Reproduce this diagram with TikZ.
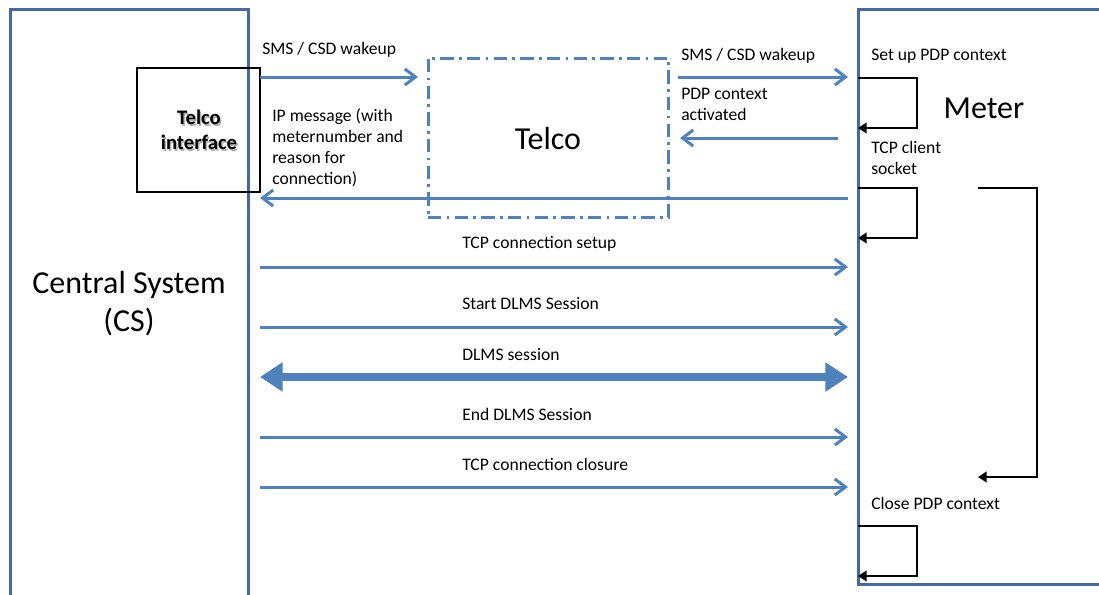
\documentclass[tikz,border=0pt]{standalone}
\usepackage{fontspec}
\setmainfont{Carlito}
\usetikzlibrary{arrows.meta,fit}
\definecolor{boxblue}{RGB}{68,106,158}
\definecolor{arrblue}{RGB}{79,129,189}
\begin{document}
\begin{tikzpicture}[x=0.75pt,y=-0.75pt,
  lifebox/.style={draw=boxblue,line width=2.25pt,inner sep=0pt},
  msg/.style={draw=arrblue,line width=2.25pt,-{Straight Barb[length=8pt,width=12pt]}},
  bigmsg/.style={draw=arrblue,line width=6pt,{Triangle[length=17pt,width=21pt]}-{Triangle[length=17pt,width=21pt]}},
  selfloop/.style={draw=black,line width=2.2pt,-{Triangle[length=6.5pt,width=8pt]}},
  lbl/.style={font=\fontsize{13.2}{15.75}\selectfont,align=left,inner sep=0pt},
  big/.style={font=\fontsize{24}{28.5}\selectfont,align=center,inner sep=0pt}]
\useasboundingbox (0,0) rectangle (1099,594);
\fill[white] (0,0) rectangle (1099,594);

% lifeline boxes
\coordinate (csTL) at (10,9);
\coordinate (csBR) at (248,640);
\node[lifebox,fit=(csTL)(csBR)] (cs) {};
\coordinate (mTL) at (858,9);
\coordinate (mBR) at (1140,584);
\node[lifebox,fit=(mTL)(mBR)] (meter) {};
\coordinate (tTL) at (428,58);
\coordinate (tBR) at (668,217);
\node[draw=arrblue,line width=2.25pt,inner sep=0pt,
  dash pattern=on 10pt off 4pt on 2pt off 4pt,fit=(tTL)(tBR)] (telco) {};
\node[big] at (548,138) {Telco};
\node[big] at (129,304) {Central System\\(CS)};
\node[big] at (984,108) {Meter};

% telco interface
\coordinate (tiTL) at (137,68);
\coordinate (tiBR) at (260,192);
\node[draw=black,line width=1.8pt,inner sep=0pt,fit=(tiTL)(tiBR)] (ti) {};
\node[font=\fontsize{15.5}{19}\bfseries,align=center,text=black!30] at (200.5,131.5) {Telco\\interface};
\node[font=\fontsize{15.5}{19}\bfseries,align=center] (tilbl) at (199,130) {Telco\\interface};

% message coordinates
\coordinate (a1) at (260,77);  \coordinate (a2) at (418,77);
\coordinate (b1) at (678,77);  \coordinate (b2) at (848,77);
\coordinate (c1) at (838,138); \coordinate (c2) at (680,138);
\coordinate (d1) at (848,198); \coordinate (d2) at (260,198);
\draw[msg] (a1) -- (a2);
\draw[msg] (b1) -- (b2);
\draw[msg] (c1) -- (c2);
\draw[msg] (d1) -- (d2);
\node[lbl,anchor=west] at (262,50) {SMS / CSD wakeup};
\node[lbl,anchor=west] at (681,56) {SMS / CSD wakeup};
\node[lbl,anchor=north west] at (681,88) {PDP context\\activated};
\node[lbl,anchor=north west] at (272,108) {IP message (with\\meternumber and\\reason for\\connection)};

% CS to meter messages
\foreach \y/\t/\n in {267/TCP connection setup/e, 327/Start DLMS Session/f, 437/End DLMS Session/g, 487/TCP connection closure/h}{
  \coordinate (\n1) at (260,\y);
  \coordinate (\n2) at (848,\y);
  \draw[msg] (\n1) -- (\n2);
  \node[lbl,anchor=west] at (462,\y-23) {\t};
}
\coordinate (s1) at (260,377);
\coordinate (s2) at (848,377);
\draw[bigmsg] (s1) -- (s2);
\node[lbl,anchor=west] at (462,355) {DLMS session};

% meter self loops
\node[lbl,anchor=west] at (871,56) {Set up PDP context};
\node[lbl,anchor=north west] at (871,141) {TCP client\\socket};
\node[lbl,anchor=west] at (871,503) {Close PDP context};
\coordinate (l1a) at (858,78);  \coordinate (l1b) at (858,128);
\coordinate (l2a) at (858,188); \coordinate (l2b) at (858,238);
\coordinate (l3a) at (858,526); \coordinate (l3b) at (858,576);
\coordinate (bra) at (978,188); \coordinate (brb) at (978,477);
\draw[selfloop] (l1a) -| (917,103) |- (l1b);
\draw[selfloop] (l2a) -| (917,213) |- (l2b);
\draw[selfloop] (l3a) -| (917,551) |- (l3b);
\draw[selfloop] (bra) -| (1037,330) |- (brb);
\end{tikzpicture}
\end{document}
